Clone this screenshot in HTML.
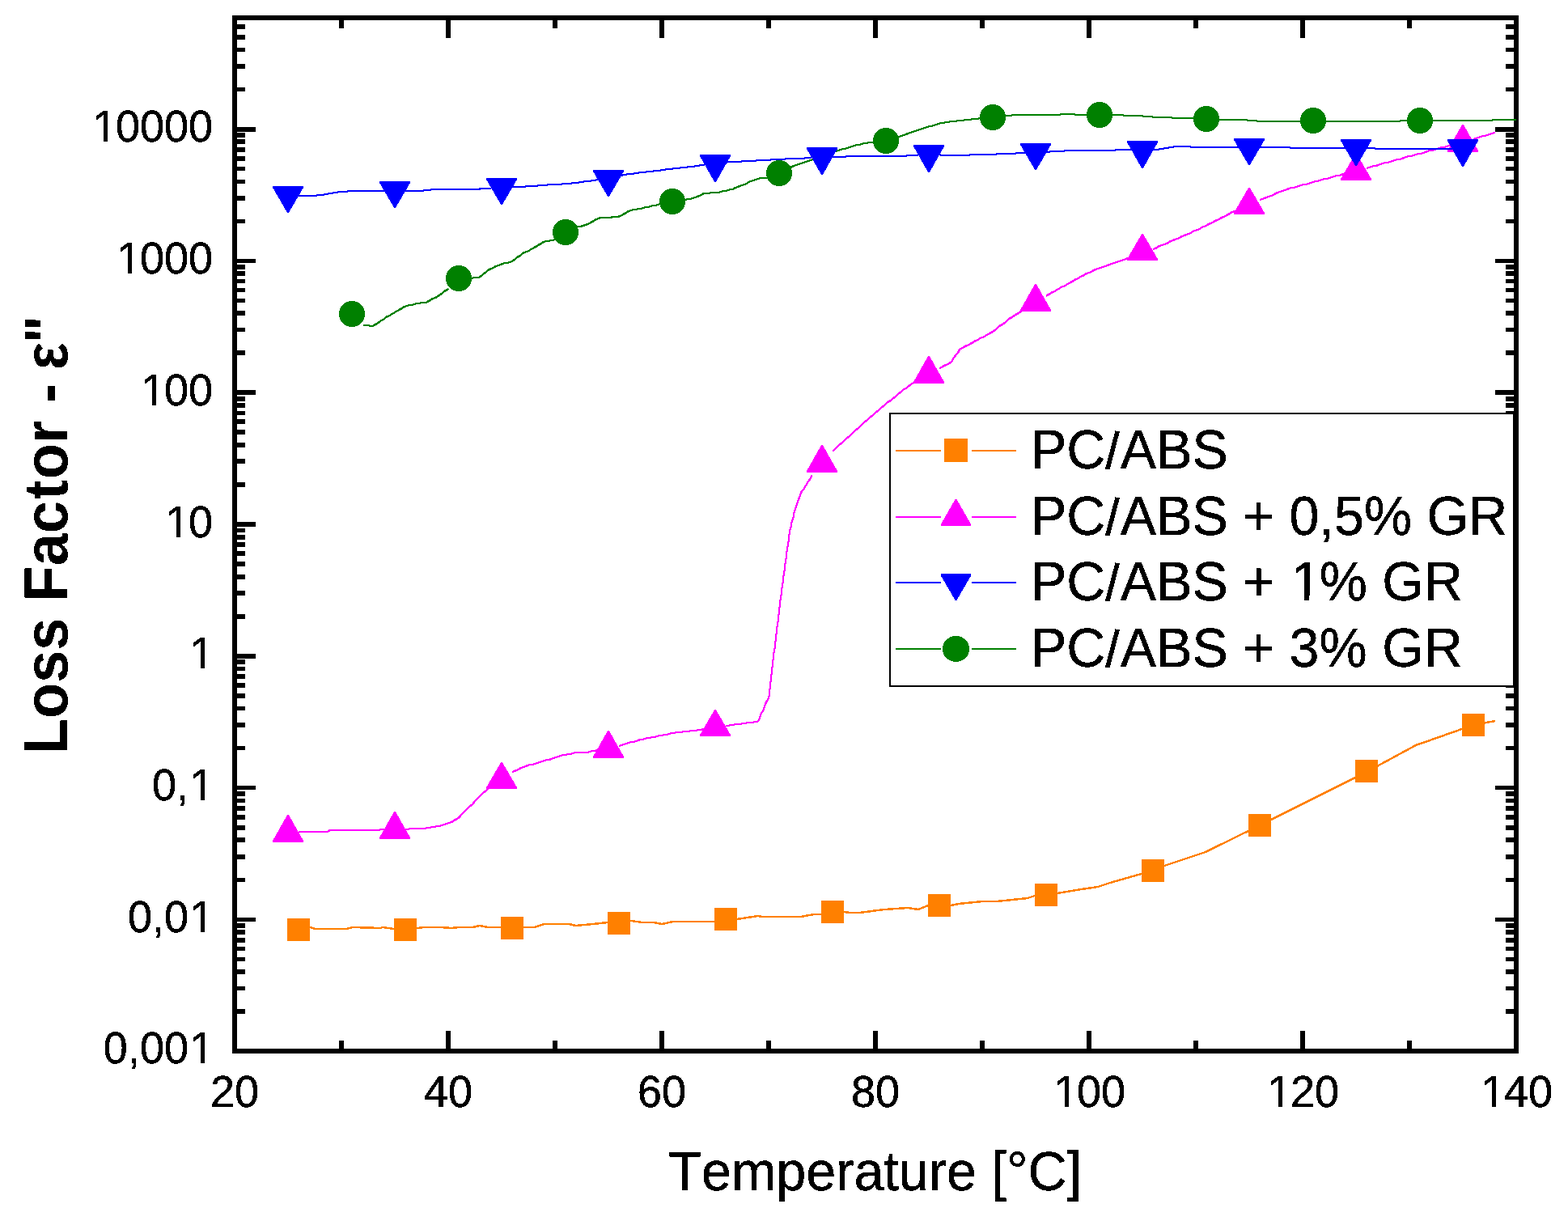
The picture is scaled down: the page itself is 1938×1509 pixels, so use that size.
<!DOCTYPE html>
<html lang="en">
<head>
<meta charset="utf-8">
<title>Loss Factor vs Temperature</title>
<style>
html,body{margin:0;padding:0;background:#fff;}
body{width:1938px;height:1509px;overflow:hidden;}
svg{display:block;}
text{font-family:"Liberation Sans",Arial,Helvetica,sans-serif;fill:#000;font-kerning:none;font-variant-ligatures:none;}
</style>
</head>
<body>
<svg width="1938" height="1509" viewBox="0 0 1938 1509">
<defs><filter id="hard" x="0" y="0" width="1938" height="1509" filterUnits="userSpaceOnUse" color-interpolation-filters="sRGB"><feComponentTransfer><feFuncA type="discrete" tableValues="0 1"/></feComponentTransfer></filter></defs>
<rect width="1938" height="1509" fill="#fff"/>
<g id="axes" fill="#000" shape-rendering="crispEdges">
<rect x="290" y="1247" width="13" height="6"/>
<rect x="1861" y="1247" width="13" height="6"/>
<rect x="290" y="1219" width="13" height="5"/>
<rect x="1861" y="1219" width="13" height="5"/>
<rect x="290" y="1198" width="13" height="6"/>
<rect x="1861" y="1198" width="13" height="6"/>
<rect x="290" y="1183" width="13" height="5"/>
<rect x="1861" y="1183" width="13" height="5"/>
<rect x="290" y="1170" width="13" height="5"/>
<rect x="1861" y="1170" width="13" height="5"/>
<rect x="290" y="1159" width="13" height="6"/>
<rect x="1861" y="1159" width="13" height="6"/>
<rect x="290" y="1149" width="13" height="6"/>
<rect x="1861" y="1149" width="13" height="6"/>
<rect x="290" y="1141" width="13" height="6"/>
<rect x="1861" y="1141" width="13" height="6"/>
<rect x="290" y="1134" width="26" height="5"/>
<rect x="1848" y="1134" width="26" height="5"/>
<rect x="290" y="1085" width="13" height="5"/>
<rect x="1861" y="1085" width="13" height="5"/>
<rect x="290" y="1056" width="13" height="6"/>
<rect x="1861" y="1056" width="13" height="6"/>
<rect x="290" y="1035" width="13" height="6"/>
<rect x="1861" y="1035" width="13" height="6"/>
<rect x="290" y="1020" width="13" height="6"/>
<rect x="1861" y="1020" width="13" height="6"/>
<rect x="290" y="1007" width="13" height="6"/>
<rect x="1861" y="1007" width="13" height="6"/>
<rect x="290" y="996" width="13" height="6"/>
<rect x="1861" y="996" width="13" height="6"/>
<rect x="290" y="987" width="13" height="5"/>
<rect x="1861" y="987" width="13" height="5"/>
<rect x="290" y="978" width="13" height="6"/>
<rect x="1861" y="978" width="13" height="6"/>
<rect x="290" y="971" width="26" height="5"/>
<rect x="1848" y="971" width="26" height="5"/>
<rect x="290" y="922" width="13" height="5"/>
<rect x="1861" y="922" width="13" height="5"/>
<rect x="290" y="893" width="13" height="6"/>
<rect x="1861" y="893" width="13" height="6"/>
<rect x="290" y="873" width="13" height="5"/>
<rect x="1861" y="873" width="13" height="5"/>
<rect x="290" y="857" width="13" height="6"/>
<rect x="1861" y="857" width="13" height="6"/>
<rect x="290" y="844" width="13" height="6"/>
<rect x="1861" y="844" width="13" height="6"/>
<rect x="290" y="833" width="13" height="6"/>
<rect x="1861" y="833" width="13" height="6"/>
<rect x="290" y="824" width="13" height="5"/>
<rect x="1861" y="824" width="13" height="5"/>
<rect x="290" y="815" width="13" height="6"/>
<rect x="1861" y="815" width="13" height="6"/>
<rect x="290" y="808" width="26" height="6"/>
<rect x="1848" y="808" width="26" height="6"/>
<rect x="290" y="759" width="13" height="6"/>
<rect x="1861" y="759" width="13" height="6"/>
<rect x="290" y="730" width="13" height="6"/>
<rect x="1861" y="730" width="13" height="6"/>
<rect x="290" y="710" width="13" height="6"/>
<rect x="1861" y="710" width="13" height="6"/>
<rect x="290" y="694" width="13" height="6"/>
<rect x="1861" y="694" width="13" height="6"/>
<rect x="290" y="681" width="13" height="6"/>
<rect x="1861" y="681" width="13" height="6"/>
<rect x="290" y="670" width="13" height="6"/>
<rect x="1861" y="670" width="13" height="6"/>
<rect x="290" y="661" width="13" height="6"/>
<rect x="1861" y="661" width="13" height="6"/>
<rect x="290" y="653" width="13" height="5"/>
<rect x="1861" y="653" width="13" height="5"/>
<rect x="290" y="645" width="26" height="6"/>
<rect x="1848" y="645" width="26" height="6"/>
<rect x="290" y="596" width="13" height="6"/>
<rect x="1861" y="596" width="13" height="6"/>
<rect x="290" y="567" width="13" height="6"/>
<rect x="1861" y="567" width="13" height="6"/>
<rect x="290" y="547" width="13" height="6"/>
<rect x="1861" y="547" width="13" height="6"/>
<rect x="290" y="531" width="13" height="6"/>
<rect x="1861" y="531" width="13" height="6"/>
<rect x="290" y="518" width="13" height="6"/>
<rect x="1861" y="518" width="13" height="6"/>
<rect x="290" y="508" width="13" height="5"/>
<rect x="1861" y="508" width="13" height="5"/>
<rect x="290" y="498" width="13" height="6"/>
<rect x="1861" y="498" width="13" height="6"/>
<rect x="290" y="490" width="13" height="6"/>
<rect x="1861" y="490" width="13" height="6"/>
<rect x="290" y="482" width="26" height="6"/>
<rect x="1848" y="482" width="26" height="6"/>
<rect x="290" y="433" width="13" height="6"/>
<rect x="1861" y="433" width="13" height="6"/>
<rect x="290" y="405" width="13" height="5"/>
<rect x="1861" y="405" width="13" height="5"/>
<rect x="290" y="384" width="13" height="6"/>
<rect x="1861" y="384" width="13" height="6"/>
<rect x="290" y="369" width="13" height="5"/>
<rect x="1861" y="369" width="13" height="5"/>
<rect x="290" y="356" width="13" height="5"/>
<rect x="1861" y="356" width="13" height="5"/>
<rect x="290" y="345" width="13" height="5"/>
<rect x="1861" y="345" width="13" height="5"/>
<rect x="290" y="335" width="13" height="6"/>
<rect x="1861" y="335" width="13" height="6"/>
<rect x="290" y="327" width="13" height="6"/>
<rect x="1861" y="327" width="13" height="6"/>
<rect x="290" y="320" width="26" height="5"/>
<rect x="1848" y="320" width="26" height="5"/>
<rect x="290" y="271" width="13" height="5"/>
<rect x="1861" y="271" width="13" height="5"/>
<rect x="290" y="242" width="13" height="6"/>
<rect x="1861" y="242" width="13" height="6"/>
<rect x="290" y="222" width="13" height="5"/>
<rect x="1861" y="222" width="13" height="5"/>
<rect x="290" y="206" width="13" height="5"/>
<rect x="1861" y="206" width="13" height="5"/>
<rect x="290" y="193" width="13" height="6"/>
<rect x="1861" y="193" width="13" height="6"/>
<rect x="290" y="182" width="13" height="6"/>
<rect x="1861" y="182" width="13" height="6"/>
<rect x="290" y="172" width="13" height="6"/>
<rect x="1861" y="172" width="13" height="6"/>
<rect x="290" y="164" width="13" height="6"/>
<rect x="1861" y="164" width="13" height="6"/>
<rect x="290" y="157" width="26" height="6"/>
<rect x="1848" y="157" width="26" height="6"/>
<rect x="290" y="108" width="13" height="5"/>
<rect x="1861" y="108" width="13" height="5"/>
<rect x="290" y="79" width="13" height="6"/>
<rect x="1861" y="79" width="13" height="6"/>
<rect x="290" y="59" width="13" height="5"/>
<rect x="1861" y="59" width="13" height="5"/>
<rect x="290" y="43" width="13" height="6"/>
<rect x="1861" y="43" width="13" height="6"/>
<rect x="290" y="30" width="13" height="6"/>
<rect x="1861" y="30" width="13" height="6"/>
<rect x="419" y="22" width="6" height="13"/>
<rect x="419" y="1286" width="6" height="13"/>
<rect x="551" y="22" width="6" height="25"/>
<rect x="551" y="1274" width="6" height="25"/>
<rect x="683" y="22" width="6" height="13"/>
<rect x="683" y="1286" width="6" height="13"/>
<rect x="815" y="22" width="6" height="25"/>
<rect x="815" y="1274" width="6" height="25"/>
<rect x="947" y="22" width="6" height="13"/>
<rect x="947" y="1286" width="6" height="13"/>
<rect x="1079" y="22" width="6" height="25"/>
<rect x="1079" y="1274" width="6" height="25"/>
<rect x="1211" y="22" width="6" height="13"/>
<rect x="1211" y="1286" width="6" height="13"/>
<rect x="1343" y="22" width="6" height="25"/>
<rect x="1343" y="1274" width="6" height="25"/>
<rect x="1475" y="22" width="6" height="13"/>
<rect x="1475" y="1286" width="6" height="13"/>
<rect x="1607" y="22" width="6" height="25"/>
<rect x="1607" y="1274" width="6" height="25"/>
<rect x="1739" y="22" width="6" height="13"/>
<rect x="1739" y="1286" width="6" height="13"/>
<rect x="287" y="19" width="1590" height="6"/>
<rect x="287" y="1296" width="1590" height="6"/>
<rect x="287" y="19" width="6" height="1283"/>
<rect x="1871" y="19" width="6" height="1283"/>
</g>
<g id="series" shape-rendering="crispEdges">
<path d="M369,1150 L383,1146 L390,1148 L428,1148 L436,1146 L470,1147 L473,1146 L487,1148 L502,1148 L516,1147 L524,1146 L545,1146 L558,1147 L567,1146 L575,1146 L584,1146 L593,1144 L603,1146 L619,1146 L633,1147 L647,1146 L661,1146 L672,1142 L685,1142 L703,1142 L712,1144 L722,1143 L733,1142 L751,1140 L766,1141 L780,1138 L787,1139 L794,1140 L808,1140 L818,1142 L832,1139 L883,1139 L897,1136 L911,1136 L937,1132 L942,1133 L990,1133 L1000,1131 L1007,1130 L1015,1130 L1029,1127 L1044,1127 L1050,1128 L1062,1128 L1093,1124 L1122,1122 L1135,1124 L1147,1119 L1161,1119 L1175,1119 L1185,1117 L1215,1114 L1232,1114 L1270,1110 L1279,1107 L1293,1106 L1307,1104 L1330,1100 L1357,1096 L1372,1091 L1400,1083 L1425,1076 L1439,1070 L1490,1053 L1557,1020 L1689,954 L1750,921 L1821,896 L1848,891" stroke="#ff8000" fill="none" stroke-width="2.5" stroke-linejoin="round"/>
<g fill="#ff8000"><rect x="355" y="1135" width="28" height="28"/><rect x="487" y="1135" width="28" height="28"/><rect x="619" y="1133" width="28" height="28"/><rect x="751" y="1127" width="28" height="28"/><rect x="883" y="1122" width="28" height="28"/><rect x="1015" y="1113" width="28" height="28"/><rect x="1147" y="1105" width="28" height="28"/><rect x="1279" y="1092" width="28" height="28"/><rect x="1411" y="1062" width="28" height="28"/><rect x="1543" y="1006" width="28" height="28"/><rect x="1675" y="939" width="28" height="28"/><rect x="1807" y="882" width="28" height="28"/></g>
<path d="M369,1028 L372,1028 L375,1028 L378,1028 L381,1028 L384,1028 L387,1028 L390,1028 L393,1028 L396,1028 L399,1028 L402,1028 L405,1028 L408,1026 L411,1026 L414,1026 L417,1026 L420,1026 L423,1026 L426,1026 L429,1026 L432,1026 L435,1026 L438,1026 L441,1026 L444,1026 L447,1026 L450,1026 L453,1026 L456,1026 L459,1026 L462,1026 L465,1026 L468,1026 L471,1025 L474,1025 L475,1025 M501,1025 L504,1025 L507,1024 L510,1024 L513,1024 L516,1024 L519,1024 L522,1024 L525,1024 L528,1023 L531,1023 L534,1022 L537,1022 L540,1021 L543,1021 L546,1020 L549,1019 L552,1018 L555,1017 L558,1016 L560,1015 L563,1013 L565,1012 L568,1010 L570,1007 L572,1005 L574,1003 L576,1001 L578,999 L580,997 L583,995 L585,993 L587,990 L589,988 L591,986 L593,984 L595,982 L597,980 L600,978 L602,976 L604,974 L607,972 L607,972 M633,954 L636,953 L638,952 L641,951 L644,949 L647,948 L650,947 L652,946 L655,945 L658,945 L661,944 L664,943 L667,942 L670,941 L673,940 L676,939 L679,939 L681,938 L684,937 L687,936 L690,935 L693,934 L696,933 L699,933 L702,932 L705,932 L708,931 L711,930 L714,930 L717,930 L720,930 L723,930 L726,930 L729,929 L732,928 L735,928 L738,927 L739,927 M765,922 L768,921 L771,920 L774,919 L777,918 L780,917 L783,917 L786,916 L789,915 L791,914 L794,914 L797,913 L800,912 L803,912 L806,911 L809,911 L812,910 L815,909 L818,909 L821,908 L824,908 L827,907 L830,906 L833,906 L836,905 L839,905 L842,905 L845,904 L848,904 L851,904 L854,903 L857,903 L860,903 L863,902 L866,902 L869,901 L871,901 M897,897 L900,897 L903,896 L906,896 L909,895 L912,895 L915,895 L918,894 L921,894 L924,893 L927,893 L930,893 L933,892 L936,892 L938,890 L939,887 L940,884 L941,881 L943,879 L944,876 L945,873 L946,870 L947,868 L949,865 L950,862 L951,859 L951,856 L951,853 L952,850 L952,847 L952,844 L953,841 L953,838 L953,835 L954,832 L954,829 L954,826 L955,823 L955,820 L955,817 L956,814 L956,811 L956,808 L957,805 L957,803 L958,800 L958,797 L958,794 L959,791 L959,788 L959,785 L960,782 L960,779 L960,776 L961,773 L961,770 L962,767 L962,764 L962,761 L963,758 L963,755 L963,752 L964,749 L964,746 L964,743 L965,740 L965,737 L966,734 L966,731 L966,728 L967,725 L967,722 L968,719 L968,716 L968,713 L969,710 L969,707 L970,704 L970,701 L970,698 L971,695 L971,692 L972,689 L972,686 L972,683 L973,680 L973,677 L974,674 L974,671 L975,668 L975,665 L975,662 L976,659 L976,656 L977,653 L978,650 L978,647 L979,644 L980,641 L981,638 L981,635 L982,632 L983,629 L984,626 L985,623 L986,620 L987,617 L988,615 L989,612 L990,609 L992,606 L994,604 L995,601 L997,599 L998,596 L1000,594 L1002,591 L1003,588 L1004,588 M1029,558 L1031,556 L1033,554 L1035,552 L1037,550 L1040,548 L1042,546 L1044,544 L1046,542 L1049,540 L1051,538 L1053,536 L1055,534 L1057,532 L1060,530 L1062,528 L1064,526 L1066,524 L1068,522 L1071,520 L1073,518 L1075,516 L1078,514 L1080,512 L1082,510 L1085,508 L1087,506 L1089,504 L1092,502 L1094,500 L1096,498 L1099,496 L1101,495 L1103,493 L1106,491 L1108,489 L1110,487 L1113,485 L1115,483 L1117,481 L1120,480 L1122,478 L1125,476 L1127,474 L1130,473 L1132,471 L1135,470 M1161,455 L1164,454 L1167,452 L1169,451 L1172,450 L1175,448 L1177,446 L1178,443 L1180,441 L1182,438 L1184,436 L1185,434 L1187,431 L1190,430 L1193,428 L1195,427 L1198,426 L1201,424 L1203,423 L1206,421 L1209,420 L1211,418 L1214,417 L1217,416 L1219,414 L1222,413 L1225,411 L1227,410 L1230,408 L1232,406 L1234,404 L1237,402 L1239,401 L1242,399 L1244,397 L1246,395 L1249,393 L1251,392 L1254,390 L1257,388 L1259,387 L1262,385 L1264,383 L1267,382 L1267,381 M1293,366 L1296,364 L1298,363 L1301,361 L1304,360 L1306,358 L1309,357 L1311,355 L1314,354 L1317,353 L1319,351 L1322,350 L1325,348 L1327,347 L1330,345 L1333,344 L1335,342 L1338,341 L1340,340 L1343,338 L1346,337 L1349,336 L1352,334 L1354,333 L1357,332 L1360,331 L1363,330 L1366,329 L1369,328 L1371,327 L1374,326 L1377,325 L1380,324 L1383,323 L1386,322 L1389,321 L1392,320 L1394,319 L1397,318 L1399,317 M1425,308 L1428,307 L1430,306 L1433,304 L1436,303 L1439,302 L1442,301 L1444,300 L1447,298 L1450,297 L1452,296 L1455,295 L1458,294 L1461,292 L1464,291 L1466,290 L1469,289 L1472,288 L1474,286 L1477,285 L1480,284 L1483,283 L1485,281 L1488,280 L1491,279 L1494,277 L1496,276 L1499,275 L1502,273 L1504,272 L1507,271 L1510,269 L1512,268 L1515,267 L1518,265 L1520,264 L1523,262 L1526,261 L1529,260 L1531,259 M1557,247 L1560,246 L1563,245 L1565,244 L1568,243 L1571,242 L1574,241 L1577,239 L1579,238 L1582,237 L1585,236 L1588,235 L1591,234 L1593,233 L1596,232 L1599,232 L1602,231 L1605,230 L1608,229 L1611,228 L1614,228 L1617,227 L1620,226 L1623,225 L1626,224 L1628,224 L1631,223 L1634,222 L1637,221 L1640,221 L1643,220 L1646,219 L1649,218 L1652,217 L1655,217 L1658,216 L1660,215 L1663,214 M1689,208 L1692,207 L1695,206 L1698,205 L1701,205 L1703,204 L1706,203 L1709,202 L1712,201 L1715,201 L1718,200 L1721,199 L1724,198 L1727,197 L1730,197 L1733,196 L1735,195 L1738,194 L1741,193 L1744,193 L1747,192 L1750,191 L1753,190 L1756,190 L1759,189 L1762,188 L1764,187 L1767,186 L1770,186 L1773,185 L1776,184 L1779,183 L1782,182 L1785,182 L1788,181 L1791,180 L1793,179 L1795,179 M1821,172 L1824,171 L1827,170 L1830,169 L1833,168 L1835,168 L1838,167 L1841,166 L1844,165 L1847,164 L1848,164" stroke="#ff00ff" fill="none" stroke-width="2.5" stroke-linejoin="round"/>
<g fill="#ff00ff" stroke="#ff00ff" stroke-width="3.0" stroke-linejoin="round"><path d="M338.5,1039.5 L373.5,1039.5 L356.0,1008.5Z"/><path d="M470.5,1035.5 L505.5,1035.5 L488.0,1004.5Z"/><path d="M602.5,973.5 L637.5,973.5 L620.0,943.5Z"/><path d="M734.5,935.5 L769.5,935.5 L752.0,904.5Z"/><path d="M866.5,908.5 L901.5,908.5 L884.0,878.5Z"/><path d="M998.5,582.5 L1033.5,582.5 L1016.0,551.5Z"/><path d="M1130.5,472.5 L1165.5,472.5 L1148.0,441.5Z"/><path d="M1262.5,383.5 L1297.5,383.5 L1280.0,352.5Z"/><path d="M1394.5,320.5 L1429.5,320.5 L1412.0,290.5Z"/><path d="M1526.5,263.5 L1561.5,263.5 L1544.0,233.5Z"/><path d="M1658.5,221.5 L1693.5,221.5 L1676.0,191.5Z"/><path d="M1790.5,186.5 L1825.5,186.5 L1808.0,155.5Z"/></g>
<path d="M449,402 L452,402 L455,402 L458,403 L461,403 L464,401 L466,400 L469,398 L471,396 L474,395 L476,393 L479,391 L482,390 L484,388 L487,387 L489,385 L492,384 L495,382 L497,381 L500,379 L503,378 L506,377 L509,377 L512,376 L515,375 L518,375 L521,374 L524,374 L527,374 L530,372 L532,371 L535,369 L538,368 L540,367 L543,365 L546,363 L548,361 L551,359 L553,358 L554,357 M580,344 L583,344 L586,343 L589,343 L592,343 L595,341 L597,339 L600,337 L602,335 L605,333 L607,332 L610,331 L613,329 L616,328 L619,327 L621,326 L624,325 L627,325 L630,324 L633,323 L636,321 L638,319 L641,317 L643,316 L645,314 L648,312 L651,311 L654,310 L656,308 L659,307 L662,305 L664,304 L667,302 L669,301 L672,299 L675,298 L678,298 L681,297 L684,297 L686,295 M712,281 L715,280 L718,280 L720,279 L724,278 L726,277 L729,276 L732,274 L734,273 L737,271 L740,270 L742,269 L746,269 L748,269 L752,269 L754,269 L758,268 L760,268 L764,268 L766,267 L769,266 L772,264 L774,263 L777,261 L780,260 L783,259 L786,259 L789,258 L792,258 L795,257 L798,256 L801,256 L804,255 L807,254 L810,254 L813,253 L816,252 L818,252 M844,247 L847,247 L850,246 L853,246 L856,245 L859,244 L862,243 L864,242 L867,241 L870,239 L873,239 L876,239 L879,238 L882,238 L885,238 L888,238 L891,237 L894,236 L897,236 L900,235 L903,234 L906,234 L909,232 L912,231 L914,230 L917,229 L920,228 L923,227 L925,225 L928,224 L931,223 L934,222 L937,221 L940,220 L942,220 L946,220 L948,220 L950,219 M976,208 L979,206 L981,205 L984,204 L987,203 L990,202 L993,201 L996,200 L999,199 L1002,198 L1005,197 L1007,196 L1010,195 L1013,194 L1016,193 L1019,192 L1022,191 L1024,190 L1027,189 L1030,188 L1033,187 L1036,186 L1039,185 L1042,184 L1044,184 L1047,183 L1050,182 L1053,181 L1056,180 L1059,179 L1062,179 L1065,178 L1068,177 L1071,177 L1074,176 L1077,176 L1080,176 L1082,175 M1108,170 L1111,169 L1114,168 L1117,167 L1120,166 L1122,165 L1125,164 L1128,163 L1131,162 L1134,161 L1137,160 L1140,159 L1143,158 L1146,157 L1149,156 L1151,156 L1154,155 L1157,154 L1160,153 L1163,152 L1166,152 L1169,151 L1172,151 L1175,150 L1178,150 L1181,150 L1184,149 L1187,149 L1190,149 L1193,148 L1196,148 L1199,148 L1202,147 L1205,147 L1208,147 L1211,146 L1214,146 M1240,144 L1243,143 L1246,143 L1249,143 L1252,142 L1255,142 L1258,142 L1261,142 L1264,142 L1267,142 L1270,142 L1273,142 L1276,142 L1279,142 L1282,142 L1285,142 L1288,142 L1291,142 L1294,142 L1297,142 L1300,142 L1303,142 L1306,142 L1309,142 L1312,141 L1315,141 L1318,141 L1321,141 L1324,141 L1327,141 L1330,142 L1333,142 L1336,142 L1339,142 L1342,142 L1345,142 L1346,142 M1372,142 L1375,142 L1378,142 L1381,142 L1384,142 L1387,142 L1390,143 L1393,143 L1396,143 L1399,143 L1402,143 L1405,143 L1408,143 L1411,143 L1414,144 L1417,144 L1420,144 L1423,144 L1426,145 L1429,145 L1432,145 L1435,145 L1438,145 L1441,145 L1444,145 L1447,145 L1450,146 L1454,146 L1456,146 L1460,146 L1462,146 L1466,146 L1468,146 L1472,146 L1474,146 L1478,147 L1478,147 M1504,148 L1507,148 L1510,148 L1513,148 L1516,148 L1519,148 L1522,148 L1525,148 L1528,148 L1531,148 L1534,148 L1537,148 L1540,148 L1543,149 L1546,149 L1549,149 L1552,149 L1555,150 L1558,150 L1561,150 L1564,150 L1567,150 L1570,150 L1573,150 L1576,150 L1579,150 L1582,150 L1585,150 L1588,150 L1591,150 L1594,150 L1597,150 L1600,150 L1603,150 L1606,150 L1609,150 L1610,150 M1636,150 L1639,150 L1642,150 L1645,150 L1648,150 L1651,150 L1654,150 L1657,150 L1660,150 L1663,150 L1666,150 L1669,150 L1672,150 L1675,150 L1678,150 L1681,150 L1684,150 L1687,150 L1690,150 L1693,150 L1696,150 L1699,150 L1702,150 L1705,150 L1708,150 L1711,150 L1714,150 L1717,150 L1720,150 L1723,150 L1726,150 L1729,150 L1732,149 L1735,149 L1738,149 L1741,149 L1742,149 M1768,149 L1771,149 L1774,149 L1777,149 L1780,149 L1783,149 L1786,149 L1789,149 L1792,149 L1795,149 L1798,149 L1801,149 L1804,149 L1807,149 L1810,149 L1813,149 L1816,149 L1819,149 L1822,149 L1825,149 L1828,149 L1831,149 L1834,149 L1837,149 L1840,149 L1843,149 L1846,148 L1849,148 L1852,148 L1855,148 L1858,148 L1861,148 L1864,148 L1867,148 L1870,148 L1873,148 L1874,148" stroke="#008000" fill="none" stroke-width="2.5" stroke-linejoin="round"/>
<g fill="#008000"><circle cx="435.0" cy="388.0" r="16"/><circle cx="567.0" cy="344.0" r="16"/><circle cx="699.0" cy="287.0" r="16"/><circle cx="831.0" cy="249.0" r="16"/><circle cx="963.0" cy="214.0" r="16"/><circle cx="1095.0" cy="174.0" r="16"/><circle cx="1227.0" cy="145.0" r="16"/><circle cx="1359.0" cy="142.0" r="16"/><circle cx="1491.0" cy="147.0" r="16"/><circle cx="1623.0" cy="149.0" r="16"/><circle cx="1755.0" cy="149.0" r="16"/></g>
<path d="M369,242 L372,242 L375,242 L378,242 L381,242 L384,242 L387,242 L390,242 L393,241 L396,241 L399,241 L402,240 L404,240 L407,239 L410,239 L413,238 L416,238 L419,237 L422,237 L425,237 L428,237 L431,236 L434,236 L437,236 L440,236 L443,236 L446,236 L449,236 L452,236 L455,236 L458,236 L461,236 L464,236 L467,236 L470,236 L473,236 L475,236 M501,236 L504,236 L507,236 L510,236 L513,236 L516,236 L519,236 L522,236 L525,235 L528,235 L531,235 L534,234 L537,234 L540,234 L543,234 L546,234 L549,234 L552,234 L555,234 L558,234 L561,234 L564,234 L567,234 L570,234 L573,234 L576,234 L579,234 L582,234 L585,234 L588,234 L592,234 L594,233 L598,233 L600,233 L604,233 L606,233 L607,233 M633,231 L636,231 L639,231 L642,231 L645,231 L648,231 L651,230 L654,230 L657,230 L660,230 L663,230 L666,229 L669,229 L672,229 L675,229 L678,228 L681,228 L684,228 L687,228 L690,228 L693,228 L696,227 L699,227 L702,227 L705,227 L708,226 L711,226 L714,226 L717,225 L720,225 L723,224 L726,224 L729,224 L732,223 L735,223 L738,222 L739,222 M765,217 L768,217 L770,216 L773,216 L776,215 L779,215 L782,215 L785,214 L788,214 L791,213 L794,213 L797,213 L800,212 L803,212 L806,212 L809,211 L812,211 L815,211 L818,210 L821,210 L824,209 L827,209 L830,209 L833,208 L836,208 L839,208 L842,207 L845,207 L848,207 L851,206 L854,206 L857,206 L860,205 L863,205 L866,204 L869,204 L871,204 M897,201 L900,200 L903,200 L906,200 L909,200 L912,200 L915,200 L918,199 L921,199 L924,199 L927,199 L930,199 L933,199 L936,198 L939,198 L942,198 L945,198 L948,198 L951,198 L954,197 L957,197 L960,197 L963,197 L966,197 L969,197 L972,196 L975,196 L978,196 L981,196 L984,196 L987,196 L990,196 L993,196 L996,195 L999,195 L1002,195 L1003,195 M1029,194 L1032,194 L1035,194 L1038,194 L1041,194 L1044,194 L1047,193 L1050,193 L1053,193 L1056,193 L1059,193 L1062,193 L1065,193 L1068,193 L1071,193 L1074,193 L1077,193 L1080,193 L1083,193 L1086,193 L1089,193 L1092,193 L1095,193 L1098,193 L1101,193 L1104,193 L1107,193 L1110,193 L1113,193 L1116,193 L1119,193 L1122,192 L1125,192 L1128,192 L1131,192 L1134,192 L1135,192 M1161,191 L1164,192 L1167,192 L1170,192 L1173,192 L1176,192 L1179,192 L1182,192 L1185,192 L1188,192 L1191,192 L1194,192 L1197,192 L1200,191 L1203,191 L1206,191 L1209,191 L1212,191 L1215,191 L1218,191 L1221,191 L1224,191 L1227,191 L1230,191 L1233,190 L1236,190 L1239,190 L1242,190 L1245,190 L1248,190 L1251,190 L1254,190 L1257,189 L1260,189 L1263,189 L1266,189 L1267,189 M1293,188 L1296,188 L1299,187 L1302,187 L1305,187 L1308,187 L1311,187 L1314,187 L1317,186 L1320,186 L1323,186 L1326,186 L1329,186 L1332,186 L1335,186 L1338,186 L1341,186 L1344,186 L1347,186 L1350,186 L1353,186 L1356,186 L1359,186 L1362,186 L1365,186 L1368,186 L1371,186 L1374,186 L1377,186 L1380,185 L1383,185 L1386,185 L1389,185 L1392,185 L1395,185 L1398,185 L1399,185 M1425,185 L1428,185 L1431,185 L1434,184 L1437,184 L1440,183 L1443,183 L1446,182 L1449,182 L1452,181 L1455,181 L1458,181 L1461,181 L1464,181 L1467,181 L1470,181 L1473,182 L1476,182 L1479,182 L1482,182 L1485,182 L1488,182 L1491,182 L1494,182 L1497,182 L1500,182 L1503,182 L1506,182 L1509,182 L1512,182 L1515,182 L1518,182 L1521,182 L1524,182 L1527,182 L1530,182 L1531,182 M1557,182 L1560,182 L1563,182 L1566,182 L1569,182 L1572,182 L1575,182 L1578,182 L1581,182 L1584,182 L1587,182 L1590,182 L1593,182 L1596,183 L1599,183 L1602,183 L1605,183 L1608,183 L1611,183 L1614,183 L1617,183 L1620,183 L1623,183 L1626,183 L1629,183 L1632,183 L1635,183 L1638,183 L1641,183 L1644,183 L1647,183 L1650,183 L1653,183 L1656,183 L1659,183 L1662,183 L1663,183 M1689,183 L1692,183 L1695,183 L1698,183 L1701,184 L1704,184 L1707,184 L1710,184 L1713,184 L1716,184 L1719,184 L1722,184 L1725,184 L1728,184 L1731,184 L1734,184 L1737,184 L1740,184 L1743,184 L1746,184 L1749,184 L1752,184 L1755,184 L1758,184 L1761,184 L1764,184 L1767,184 L1770,184 L1773,184 L1776,184 L1779,184 L1782,184 L1785,184 L1788,184 L1791,184 L1794,184 L1795,184" stroke="#0000ff" fill="none" stroke-width="2.5" stroke-linejoin="round"/>
<g fill="#0000ff" stroke="#0000ff" stroke-width="3.0" stroke-linejoin="round"><path d="M338.5,231.5 L373.5,231.5 L356.0,261.5Z"/><path d="M470.5,225.5 L505.5,225.5 L488.0,255.5Z"/><path d="M602.5,221.5 L637.5,221.5 L620.0,251.5Z"/><path d="M734.5,211.5 L769.5,211.5 L752.0,241.5Z"/><path d="M866.5,192.5 L901.5,192.5 L884.0,223.5Z"/><path d="M998.5,183.5 L1033.5,183.5 L1016.0,214.5Z"/><path d="M1130.5,180.5 L1165.5,180.5 L1148.0,211.5Z"/><path d="M1262.5,178.5 L1297.5,178.5 L1280.0,208.5Z"/><path d="M1394.5,175.5 L1429.5,175.5 L1412.0,206.5Z"/><path d="M1526.5,172.5 L1561.5,172.5 L1544.0,202.5Z"/><path d="M1658.5,173.5 L1693.5,173.5 L1676.0,203.5Z"/><path d="M1790.5,173.5 L1825.5,173.5 L1808.0,204.5Z"/></g>
</g>
<g id="legend" shape-rendering="crispEdges">
<rect x="1100" y="511" width="771" height="337" fill="#fff" stroke="#000" stroke-width="2"/>
<rect x="1107" y="556" width="56" height="2" fill="#ff8000"/>
<rect x="1201" y="556" width="55" height="2" fill="#ff8000"/>
<rect x="1167" y="542" width="29" height="29" fill="#ff8000"/>
<rect x="1107" y="638" width="56" height="2" fill="#ff00ff"/>
<rect x="1201" y="638" width="55" height="2" fill="#ff00ff"/>
<g fill="#ff00ff" stroke="#ff00ff" stroke-width="3.0" stroke-linejoin="round"><path d="M1164.0,648.9 L1199.0,648.9 L1181.5,618.5Z"/></g>
<rect x="1107" y="719" width="56" height="2" fill="#0000ff"/>
<rect x="1201" y="719" width="55" height="2" fill="#0000ff"/>
<g fill="#0000ff" stroke="#0000ff" stroke-width="3.0" stroke-linejoin="round"><path d="M1164.0,710.5 L1199.0,710.5 L1181.5,740.5Z"/></g>
<rect x="1107" y="801" width="56" height="2" fill="#008000"/>
<rect x="1201" y="801" width="55" height="2" fill="#008000"/>
<ellipse cx="1181.5" cy="802" rx="16.6" ry="16" fill="#008000"/>
<rect x="1871" y="509" width="6" height="341" fill="#000"/>
</g>
<g id="all-text" filter="url(#hard)">
<g id="legend-text">
<text transform="translate(1274.00,579.3) scale(1,1.017)" font-size="66.5" stroke="#000" stroke-width="0.4">PC/ABS</text>
<text transform="translate(1274.00,661.3) scale(1,1.017)" font-size="66.5" stroke="#000" stroke-width="0.4">PC/ABS + 0,5% GR</text>
<text transform="translate(1274.00,742.3) scale(1,1.017)" font-size="66.5" stroke="#000" stroke-width="0.4" dx="0 0 0 0 0 0 0 0 0 1.97 -1.97">PC/ABS + 1% GR</text>
<text transform="translate(1274.00,824.3) scale(1,1.017)" font-size="66.5" stroke="#000" stroke-width="0.4">PC/ABS + 3% GR</text>
</g>
<g id="labels">
<text transform="translate(127.87,1314.4) scale(1,1.012)" font-size="54" stroke="#000" stroke-width="0.4" dx="0 0 0 0 1.6">0,001</text>
<text transform="translate(157.90,1151.7) scale(1,1.012)" font-size="54" stroke="#000" stroke-width="0.4" dx="0 0 0 1.6">0,01</text>
<text transform="translate(187.93,989.0) scale(1,1.012)" font-size="54" stroke="#000" stroke-width="0.4" dx="0 0 1.6">0,1</text>
<text transform="translate(232.97,826.3) scale(1,1.012)" font-size="54" stroke="#000" stroke-width="0.4" dx="1.6">1</text>
<text transform="translate(202.94,663.5) scale(1,1.012)" font-size="54" stroke="#000" stroke-width="0.4" dx="1.6 -1.6">10</text>
<text transform="translate(172.90,500.8) scale(1,1.012)" font-size="54" stroke="#000" stroke-width="0.4" dx="1.6 -1.6">100</text>
<text transform="translate(142.87,338.1) scale(1,1.012)" font-size="54" stroke="#000" stroke-width="0.4" dx="1.6 -1.6">1000</text>
<text transform="translate(112.84,175.4) scale(1,1.012)" font-size="54" stroke="#000" stroke-width="0.4" dx="1.6 -1.6">10000</text>
<text transform="translate(259.97,1368.0) scale(1,1.012)" font-size="54" stroke="#000" stroke-width="0.4">20</text>
<text transform="translate(523.97,1368.0) scale(1,1.012)" font-size="54" stroke="#000" stroke-width="0.4">40</text>
<text transform="translate(787.97,1368.0) scale(1,1.012)" font-size="54" stroke="#000" stroke-width="0.4">60</text>
<text transform="translate(1051.97,1368.0) scale(1,1.012)" font-size="54" stroke="#000" stroke-width="0.4">80</text>
<text transform="translate(1300.95,1368.0) scale(1,1.012)" font-size="54" stroke="#000" stroke-width="0.4" dx="1.6 -1.6">100</text>
<text transform="translate(1564.95,1368.0) scale(1,1.012)" font-size="54" stroke="#000" stroke-width="0.4" dx="1.6 -1.6">120</text>
<text transform="translate(1828.95,1368.0) scale(1,1.012)" font-size="54" stroke="#000" stroke-width="0.4" dx="1.6 -1.6">140</text>
<text transform="translate(826.33,1470.7) scale(1,1.04)" font-size="66.5" stroke="#000" stroke-width="0.4">Temperature [°C]</text>
<text transform="translate(83,932) rotate(-90) scale(1,1.06)" font-size="72.2" font-weight="bold" dx="0 0 0 0 0 0 0 0 1.9 0.9 0.4 0 1.3 0 -3.2 -1.3">Loss Factor - ε"</text>
</g>
</g>
<g id="glyph-trim" fill="#fff" shape-rendering="crispEdges">
<rect x="237.68" y="1309.12" width="10.27" height="6.48"/>
<rect x="253.12" y="1309.12" width="9.84" height="6.48"/>
<rect x="237.68" y="1146.42" width="10.27" height="6.48"/>
<rect x="253.12" y="1146.42" width="9.84" height="6.48"/>
<rect x="237.68" y="983.72" width="10.27" height="6.48"/>
<rect x="253.12" y="983.72" width="9.84" height="6.48"/>
<rect x="237.68" y="821.02" width="10.27" height="6.48"/>
<rect x="253.12" y="821.02" width="9.84" height="6.48"/>
<rect x="207.65" y="658.22" width="10.27" height="6.48"/>
<rect x="223.09" y="658.22" width="9.84" height="6.48"/>
<rect x="177.62" y="495.52" width="10.27" height="6.48"/>
<rect x="193.05" y="495.52" width="9.84" height="6.48"/>
<rect x="147.58" y="332.82" width="10.27" height="6.48"/>
<rect x="163.02" y="332.82" width="9.84" height="6.48"/>
<rect x="117.55" y="170.12" width="10.27" height="6.48"/>
<rect x="132.99" y="170.12" width="9.84" height="6.48"/>
<rect x="1305.66" y="1362.72" width="10.27" height="6.48"/>
<rect x="1321.10" y="1362.72" width="9.84" height="6.48"/>
<rect x="1569.66" y="1362.72" width="10.27" height="6.48"/>
<rect x="1585.10" y="1362.72" width="9.84" height="6.48"/>
<rect x="1833.66" y="1362.72" width="10.27" height="6.48"/>
<rect x="1849.10" y="1362.72" width="9.84" height="6.48"/>
<rect x="1378.72" y="526.29" width="7.64" height="6.33"/>
<rect x="1378.72" y="608.29" width="7.64" height="6.33"/>
<rect x="1378.72" y="689.29" width="7.64" height="6.33"/>
<rect x="1599.74" y="736.05" width="12.46" height="7.45"/>
<rect x="1618.48" y="736.05" width="11.94" height="7.45"/>
<rect x="1378.72" y="771.29" width="7.64" height="6.33"/>
</g>
</svg>
</body>
</html>
